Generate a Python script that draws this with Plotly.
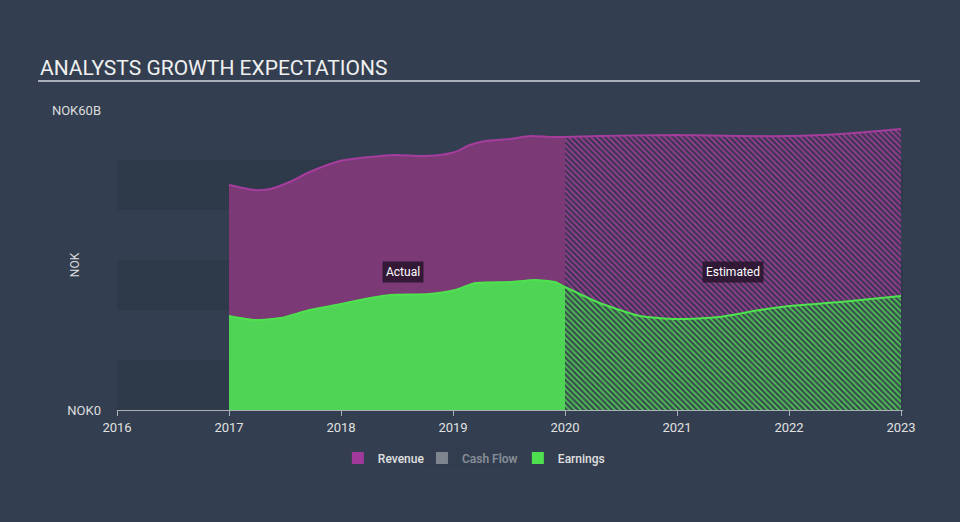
import plotly.graph_objects as go

# ---- data (decimal years, values in NOK billions) ----
rev_act_x = [2017.0, 2017.23, 2017.37, 2017.54, 2017.72, 2017.99, 2018.26, 2018.48, 2018.71, 2018.88, 2019.02, 2019.15, 2019.29, 2019.51, 2019.69, 2019.87, 2020.0]
rev_act_y = [45.0, 44.0, 44.2, 45.6, 47.6, 49.8, 50.6, 51.0, 50.8, 51.0, 51.6, 53.0, 53.8, 54.2, 54.8, 54.6, 54.6]
rev_est_x = [2020.0, 2020.31, 2021.0, 2021.56, 2022.0, 2022.46, 2023.0]
rev_est_y = [54.6, 54.8, 55.0, 54.8, 54.8, 55.2, 56.2]

earn_act_x = [2017.0, 2017.23, 2017.46, 2017.72, 2018.0, 2018.26, 2018.44, 2018.79, 2019.02, 2019.2, 2019.51, 2019.73, 2019.91, 2020.0]
earn_act_y = [18.8, 18.0, 18.4, 20.0, 21.2, 22.4, 23.0, 23.2, 24.0, 25.4, 25.6, 26.0, 25.6, 24.6]
earn_est_x = [2020.0, 2020.31, 2020.67, 2021.0, 2021.38, 2021.74, 2022.0, 2022.46, 2023.0]
earn_est_y = [24.6, 21.4, 18.8, 18.2, 18.6, 20.0, 20.8, 21.6, 22.8]

year_ticks = [2016, 2017, 2018, 2019, 2020, 2021, 2022, 2023]
y_tick_vals = [0, 60]
y_tick_text = ["NOK0", "NOK60B"]
band_ranges = [(0, 10), (20, 30), (40, 50)]
legend_names = ["Revenue", "Cash Flow", "Earnings"]
legend_colors = ["#a0399a", "#cccccc", "#4fe04f"]

BG = "#333f50"
REV_FILL = "#7b3a76"
REV_LINE = "#a53d9c"
EARN_FILL = "#4fd455"
EARN_LINE = "#4ee24e"

fig = go.Figure()

fig.add_trace(go.Scatter(
    x=rev_act_x, y=rev_act_y, mode="lines", line=dict(color=REV_LINE, width=2, shape="spline", smoothing=0.6),
    fill="tozeroy", fillcolor=REV_FILL, name="Revenue", showlegend=False, hoverinfo="skip"))
fig.add_trace(go.Scatter(
    x=rev_est_x, y=rev_est_y, mode="lines", line=dict(color=REV_LINE, width=2, shape="spline", smoothing=0.6),
    fill="tozeroy", fillcolor="#3b3552",
    fillpattern=dict(shape="\\", fgcolor="#9a3e94", bgcolor="#3b3552", size=4, solidity=0.45, fillmode="replace"),
    name="Revenue", showlegend=False, hoverinfo="skip"))
fig.add_trace(go.Scatter(
    x=earn_act_x, y=earn_act_y, mode="lines", line=dict(color=EARN_LINE, width=2, shape="spline", smoothing=0.6),
    fill="tozeroy", fillcolor=EARN_FILL, name="Earnings", showlegend=False, hoverinfo="skip"))
fig.add_trace(go.Scatter(
    x=earn_est_x, y=earn_est_y, mode="lines", line=dict(color=EARN_LINE, width=2, shape="spline", smoothing=0.6),
    fill="tozeroy", fillcolor="#394a50",
    fillpattern=dict(shape="\\", fgcolor="#4fc653", bgcolor="#394a50", size=4, solidity=0.45, fillmode="replace"),
    name="Earnings", showlegend=False, hoverinfo="skip"))

# legend-only entries (square swatches), each in its own legend for exact placement
legend_refs = ["legend", "legend2", "legend3"]
for name, col, lg in zip(legend_names, legend_colors, legend_refs):
    fig.add_trace(go.Bar(x=[None], y=[None], name=name, marker=dict(color=col, line=dict(width=0)),
                         visible="legendonly" if name == "Cash Flow" else True, showlegend=True, legend=lg))

shapes = []
for y0, y1 in band_ranges:
    shapes.append(dict(type="rect", xref="paper", yref="y", x0=0, x1=1, y0=y0, y1=y1,
                       fillcolor="#2e3a4a", line=dict(width=0), layer="below"))
# title underline
shapes.append(dict(type="line", xref="paper", yref="paper", x0=-0.1005, x1=1.0216, y0=1.0967, y1=1.0967,
                   line=dict(color="#a9b0b8", width=2)))

annotations = [
    dict(text="ANALYSTS GROWTH EXPECTATIONS", xref="paper", yref="paper", x=-0.1005, y=1.14,
         xanchor="left", yanchor="middle", showarrow=False,
         font=dict(family="Roboto", size=21, color="#f0f0f0")),
    dict(text="NOK", xref="paper", yref="paper", x=-0.0534, y=0.483, textangle=-90,
         xanchor="center", yanchor="middle", showarrow=False,
         font=dict(family="Roboto", size=12, color="#dddddd")),
    dict(text="Actual", x=2018.55, y=27.6, xref="x", yref="y", showarrow=False,
         bgcolor="rgba(40,20,45,0.85)", borderpad=3,
         font=dict(family="Roboto", size=12, color="#ffffff")),
    dict(text="Estimated", x=2021.5, y=27.6, xref="x", yref="y", showarrow=False,
         bgcolor="rgba(40,20,45,0.85)", borderpad=3,
         font=dict(family="Roboto", size=12, color="#ffffff")),
]

def legend_box(xpos):
    return dict(orientation="h", x=xpos, xanchor="left", y=-0.16, yanchor="middle",
                font=dict(family="Roboto", size=12, color="#e0e0e0", weight=500),
                bgcolor="rgba(0,0,0,0)", itemclick=False, itemdoubleclick=False,
                itemwidth=30)

fig.update_layout(
    width=960, height=522,
    margin=dict(l=117, r=57, t=110, b=112),
    paper_bgcolor=BG, plot_bgcolor=BG,
    font=dict(family="Roboto", size=12, color="#dddddd"),
    shapes=shapes, annotations=annotations,
    showlegend=True,
    legend=legend_box(0.281),
    legend2=legend_box(0.388),
    legend3=legend_box(0.510),
    hovermode=False,
    barmode="overlay",
)
fig.update_xaxes(range=[2016, 2016 + 786 / 112], tickvals=year_ticks, ticktext=[str(v) for v in year_ticks],
                 showgrid=False, zeroline=False, showline=True, linecolor="#a9b0b8", linewidth=1,
                 ticks="outside", ticklen=5, tickcolor="#a9b0b8",
                 tickfont=dict(family="Roboto", size=13, color="#e0e0e0"))
fig.update_yaxes(range=[0, 60], tickvals=y_tick_vals, ticktext=y_tick_text, showgrid=False, zeroline=False,
                 showline=False, ticks="", ticklabelstandoff=15,
                 tickfont=dict(family="Roboto", size=13, color="#dddddd"))

fig.write_html("out.html", config={"displayModeBar": False, "staticPlot": True},
               post_script="document.body.style.margin='0';document.body.style.background='%s';" % BG)
